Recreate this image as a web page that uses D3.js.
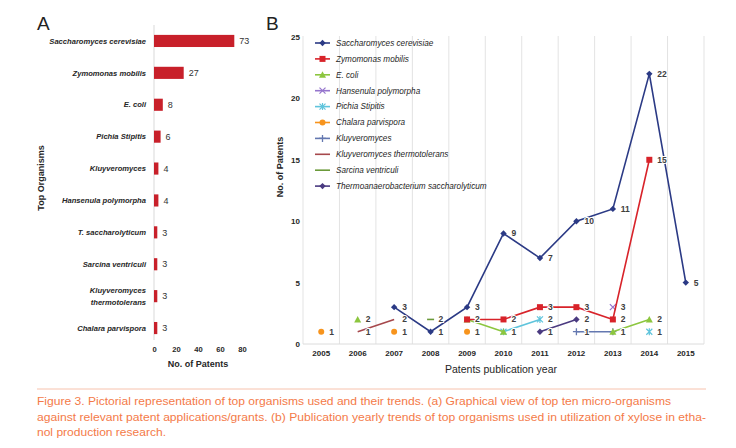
<!DOCTYPE html>
<html><head><meta charset="utf-8">
<script src="https://cdn.jsdelivr.net/npm/d3@7"></script>
<style>
body{margin:0;background:#fff;}
svg{display:block;}
text{font-family:"Liberation Sans",Arial,sans-serif;}
</style></head>
<body>
<svg id="c" width="736" height="448"></svg>
<script>
// ---- Panel A data ----
const organisms = ["Saccharomyces cerevisiae","Zymomonas mobilis","E. coli","Pichia Stipitis","Kluyveromyces","Hansenula polymorpha","T. saccharolyticum","Sarcina ventriculi","Kluyveromyces\nthermotolerans","Chalara parvispora"];
const patentCounts = [73,27,8,6,4,4,3,3,3,3];
const countTicks = [0,20,40,60,80];

// ---- Panel B data ----
const years = ["2005","2006","2007","2008","2009","2010","2011","2012","2013","2014","2015"];
const seriesNames = ["Saccharomyces cerevisiae","Zymomonas mobilis","E. coli","Hansenula polymorpha","Pichia Stipitis","Chalara parvispora","Kluyveromyces","Kluyveromyces thermotolerans","Sarcina ventriculi","Thermoanaerobacterium saccharolyticum"];
const sCerevisiae   = [null,null,3,1,3,9,7,10,11,22,5];
const zMobilis      = [null,null,null,null,2,2,3,3,2,15,null];
const eColi         = [null,2,null,null,2,1,null,null,1,2,null];
const hPolymorpha   = [null,null,null,null,null,null,null,null,3,null,null];
const pStipitis     = [null,null,null,null,null,1,2,null,null,1,null];
const cParvispora   = [1,null,1,null,1,null,null,null,null,null,null];
const kluyveromyces = [null,null,null,null,null,null,null,1,1,null,null];
const kThermo       = [null,1,2,null,null,null,null,null,null,null,null];
const sVentriculi   = [null,null,null,2,null,null,null,null,null,null,null];
const tSacchar      = [null,null,null,null,null,null,1,2,null,null,null];
const yTicks = [0,5,10,15,20,25];

const captionLines = [
 "Figure 3. Pictorial representation of top organisms used and their trends. (a) Graphical view of top ten micro-organisms",
 "against relevant patent applications/grants. (b) Publication yearly trends of top organisms used in utilization of xylose in etha-",
 "nol production research."
];

const seriesValues = [sCerevisiae,zMobilis,eColi,hPolymorpha,pStipitis,cParvispora,kluyveromyces,kThermo,sVentriculi,tSacchar];
const colors = ["#2b3a85","#d8232a","#8cc63f","#9575cd","#5fc4dc","#f7941d","#6478b0","#a6484c","#6b9a3a","#4a3a80"];
const markers = ["diamond","square","triangle","x","asterisk","circle","plus","none","none","diamond"];

const svg = d3.select("#c");
const dark = "#262626";

// ===== Panel A =====
svg.append("text").attr("x",37).attr("y",30).attr("font-size",19).attr("fill","#222").text("A");

const xA = d3.scaleLinear().domain([0,80]).range([154,242]);
const yA = d3.scaleBand().domain(organisms).range([25,344]).paddingInner(0.62).paddingOuter(0.31);

svg.append("line").attr("x1",154).attr("x2",154).attr("y1",25).attr("y2",340).attr("stroke","#d9d9d9").attr("stroke-width",1);

svg.selectAll("rect.barA").data(organisms).enter().append("rect")
  .attr("x",xA(0)).attr("y",d=>yA(d)).attr("height",yA.bandwidth())
  .attr("width",(d,i)=>xA(patentCounts[i])-xA(0)).attr("fill","#c8202a");

svg.selectAll("text.valA").data(organisms).enter().append("text")
  .attr("x",(d,i)=>xA(patentCounts[i])+5).attr("y",d=>yA(d)+yA.bandwidth()/2).attr("dy","0.35em")
  .attr("font-size",9).attr("fill","#333").text((d,i)=>patentCounts[i]);

organisms.forEach(d=>{
  const lines = d.split("\n");
  const t = svg.append("text").attr("text-anchor","end").attr("font-size",7.6)
    .attr("font-weight","bold").attr("font-style","italic").attr("fill",dark);
  const cy = yA(d)+yA.bandwidth()/2;
  lines.forEach((l,i)=>{
    t.append("tspan").attr("x",146).attr("y",cy+(i-(lines.length-1)/2)*12).attr("dy","0.35em").text(l);
  });
});

const axA = d3.axisBottom(xA).tickValues(countTicks).tickSize(0).tickPadding(0);
const gA = svg.append("g").attr("transform","translate(0,347)").call(axA);
gA.select(".domain").remove();
gA.selectAll("text").attr("font-size",7.6).attr("font-weight","bold").attr("fill",dark)
  .attr("font-family","Liberation Sans,Arial,sans-serif");

svg.append("text").attr("x",198).attr("y",367).attr("text-anchor","middle").attr("font-size",9)
  .attr("font-weight","bold").attr("fill",dark).text("No. of Patents");
svg.append("text").attr("transform","translate(44,178) rotate(-90)").attr("text-anchor","middle")
  .attr("font-size",9).attr("font-weight","bold").attr("fill",dark).text("Top Organisms");

// ===== Panel B =====
svg.append("text").attr("x",266).attr("y",30).attr("font-size",19).attr("fill","#222").text("B");

const xB = d3.scaleBand().domain(years).range([303,704]);
const yB = d3.scaleLinear().domain([0,25]).range([344,37]);

const edges = years.map(y=>xB(y)).concat([xB.range()[1]]);
svg.selectAll("line.gridB").data(edges).enter().append("line")
  .attr("x1",d=>d).attr("x2",d=>d).attr("y1",36).attr("y2",344)
  .attr("stroke","#e3e3e3").attr("stroke-width",1);
svg.append("line").attr("x1",303).attr("x2",704).attr("y1",344).attr("y2",344).attr("stroke","#dcdcdc");

const axBY = d3.axisLeft(yB).tickValues(yTicks).tickSize(0).tickPadding(0);
const gBY = svg.append("g").attr("transform","translate(300,0)").call(axBY);
gBY.select(".domain").remove();
gBY.selectAll("text").attr("font-size",8).attr("font-weight","bold").attr("fill",dark)
  .attr("font-family","Liberation Sans,Arial,sans-serif");

const axBX = d3.axisBottom(xB).tickSize(0).tickPadding(0);
const gBX = svg.append("g").attr("transform","translate(0,350)").call(axBX);
gBX.select(".domain").remove();
gBX.selectAll("text").attr("font-size",8).attr("font-weight","bold").attr("fill",dark)
  .attr("font-family","Liberation Sans,Arial,sans-serif");

svg.append("text").attr("x",501).attr("y",373).attr("text-anchor","middle").attr("font-size",10.5)
  .attr("fill",dark).text("Patents publication year");
svg.append("text").attr("transform","translate(283,167) rotate(-90)").attr("text-anchor","middle")
  .attr("font-size",9).attr("font-weight","bold").attr("fill",dark).text("No. of Patents");

function drawMarker(g,type,x,y,col){
  const s=3.2;
  if(type==="diamond") g.append("path").attr("d",`M${x},${y-s}L${x+s},${y}L${x},${y+s}L${x-s},${y}Z`).attr("fill",col);
  else if(type==="square") g.append("rect").attr("x",x-3).attr("y",y-3).attr("width",6).attr("height",6).attr("fill",col);
  else if(type==="triangle") g.append("path").attr("d",`M${x},${y-3.5}L${x+3.5},${y+3}L${x-3.5},${y+3}Z`).attr("fill",col);
  else if(type==="circle") g.append("circle").attr("cx",x).attr("cy",y).attr("r",3).attr("fill",col);
  else if(type==="x") g.append("path").attr("d",`M${x-3},${y-3}L${x+3},${y+3}M${x-3},${y+3}L${x+3},${y-3}`).attr("stroke",col).attr("stroke-width",1.2);
  else if(type==="plus") g.append("path").attr("d",`M${x-3.5},${y}L${x+3.5},${y}M${x},${y-3.5}L${x},${y+3.5}`).attr("stroke",col).attr("stroke-width",1.3);
  else if(type==="asterisk") g.append("path").attr("d",`M${x-3},${y-3}L${x+3},${y+3}M${x-3},${y+3}L${x+3},${y-3}M${x},${y-3.5}L${x},${y+3.5}`).attr("stroke",col).attr("stroke-width",1.2);
  else if(type==="none") g.append("path").attr("d",`M${x-3.5},${y}L${x+3.5},${y}`).attr("stroke",col).attr("stroke-width",1.6);
}

const cx = y=>xB(y)+xB.bandwidth()/2;
const lineGen = d3.line().defined(d=>d.v!==null).x(d=>cx(d.year)).y(d=>yB(d.v));

const order = d3.range(seriesNames.length).reverse();
order.forEach(si=>{
  const pts = years.map((y,i)=>({year:y,v:seriesValues[si][i]}));
  const g = svg.append("g");
  g.append("path").datum(pts).attr("d",lineGen).attr("fill","none").attr("stroke",colors[si]).attr("stroke-width",1.6);
  pts.forEach((p,i)=>{
    if(p.v===null) return;
    const prev = i>0 ? pts[i-1].v : null, next = i<pts.length-1 ? pts[i+1].v : null;
    const isolated = prev===null && next===null;
    if(markers[si]!=="none" || isolated) drawMarker(g,markers[si],cx(p.year),yB(p.v),colors[si]);
  });
});
order.forEach(si=>{
  years.forEach((y,i)=>{
    const v = seriesValues[si][i];
    if(v===null) return;
    svg.append("text").attr("x",cx(y)+8).attr("y",yB(v)).attr("dy","0.35em").attr("font-size",8.5)
      .attr("font-weight","bold").attr("fill","#404040").attr("stroke","#fff").attr("stroke-width",2)
      .attr("paint-order","stroke").text(v);
  });
});

// legend
const lg = svg.append("g");
seriesNames.forEach((n,i)=>{
  const ly = 43 + i*15.9;
  lg.append("line").attr("x1",315).attr("x2",330).attr("y1",ly).attr("y2",ly).attr("stroke",colors[i]).attr("stroke-width",1.6);
  if(markers[i]!=="none") drawMarker(lg,markers[i],322.5,ly,colors[i]);
  lg.append("text").attr("x",336).attr("y",ly).attr("dy","0.35em").attr("font-size",8.2)
    .attr("font-style","italic").attr("fill",dark).text(n);
});

// caption
svg.append("line").attr("x1",37).attr("x2",706).attr("y1",389).attr("y2",389).attr("stroke","#f7c2ad").attr("stroke-width",1);
const capWidths = [634,669,129];
captionLines.forEach((c,i)=>{
  svg.append("text").attr("x",37).attr("y",405+i*15.5).attr("font-size",11.5).attr("fill","#f47a48")
    .attr("font-family","'Liberation Sans',Arial,sans-serif")
    .attr("textLength",capWidths[i]).attr("lengthAdjust","spacingAndGlyphs").text(c);
});
</script>
</body></html>
